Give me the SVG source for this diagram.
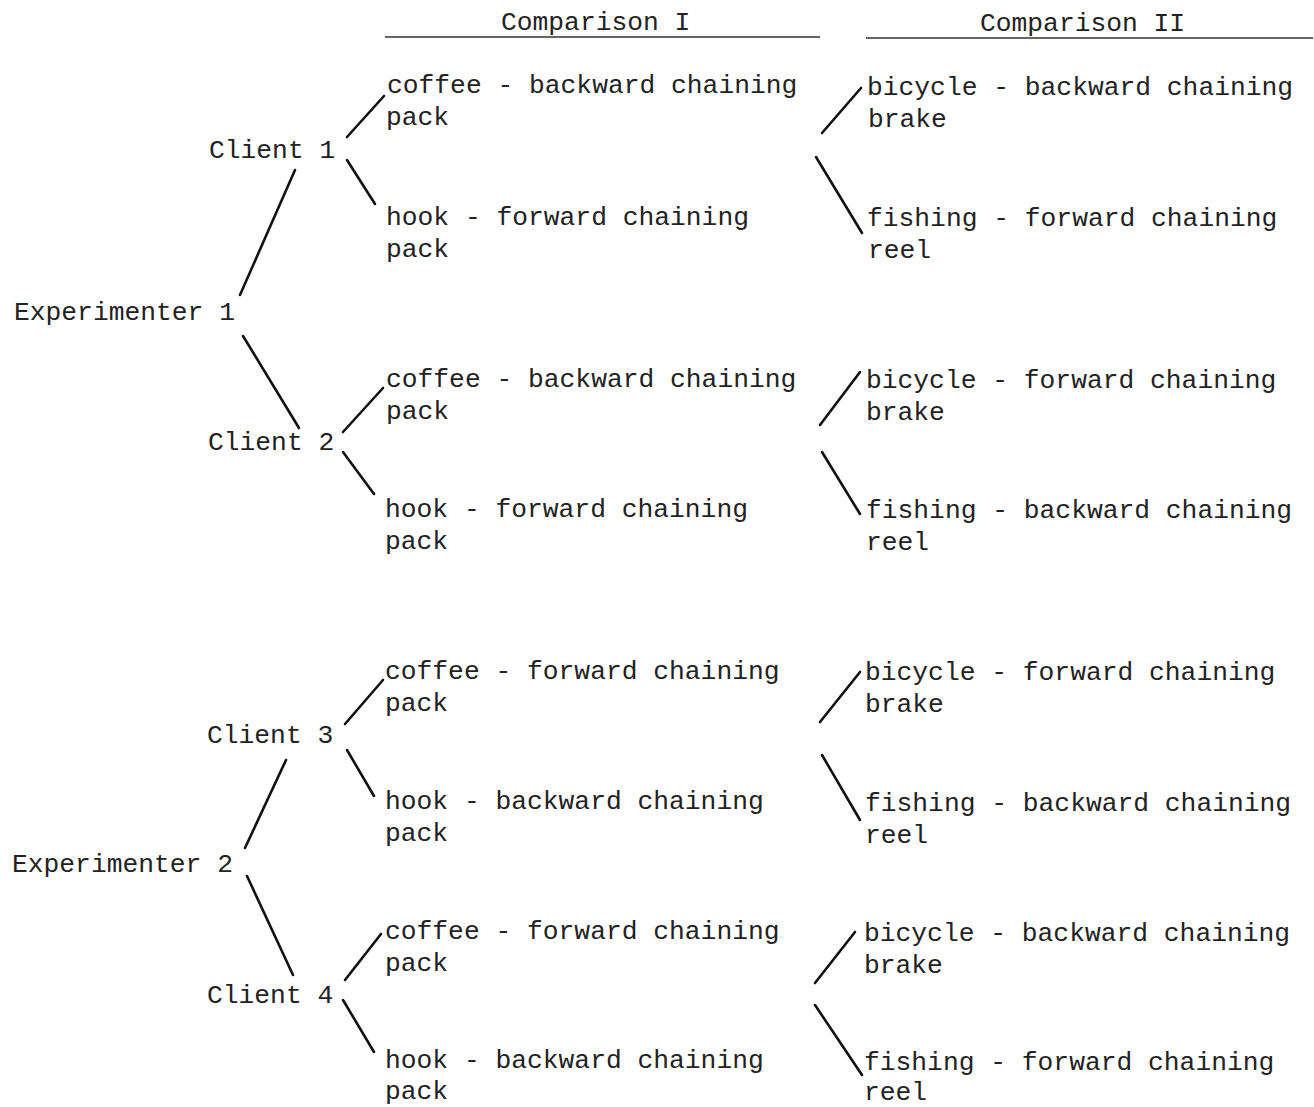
<svg xmlns="http://www.w3.org/2000/svg" width="1314" height="1107" viewBox="0 0 1314 1107">
<style>
text{font-family:"Liberation Mono","DejaVu Sans Mono",monospace;font-size:26.3px;fill:#222}
.c line{stroke:#111;stroke-width:2.6;stroke-linecap:round}
.u{stroke:#333;stroke-width:1.3}
</style>
<rect width="1314" height="1107" fill="#fff"/>
<g id="headers">
<text x="501" y="30">Comparison I</text>
<line class="u" x1="385" y1="37" x2="820" y2="37"/>
<text x="980" y="31">Comparison II</text>
<line class="u" x1="866" y1="38" x2="1313" y2="38"/>
</g>
<g class="c" id="connectors">
<line x1="240" y1="295" x2="295" y2="170"/>
<line x1="243" y1="336" x2="299" y2="428"/>
<line x1="347" y1="137" x2="384" y2="96"/>
<line x1="347" y1="160" x2="375" y2="204"/>
<line x1="343" y1="432" x2="383" y2="388"/>
<line x1="343" y1="452" x2="374" y2="494"/>
<line x1="822" y1="133" x2="861" y2="88"/>
<line x1="816" y1="157" x2="862" y2="233"/>
<line x1="820" y1="425" x2="860" y2="372"/>
<line x1="822" y1="452" x2="860" y2="514"/>
<line x1="245" y1="848" x2="286" y2="760"/>
<line x1="247" y1="876" x2="293" y2="975"/>
<line x1="345" y1="724" x2="383" y2="680"/>
<line x1="347" y1="750" x2="374" y2="796"/>
<line x1="345" y1="980" x2="381" y2="934"/>
<line x1="343" y1="1000" x2="374" y2="1052"/>
<line x1="820" y1="722" x2="860" y2="672"/>
<line x1="822" y1="755" x2="860" y2="820"/>
<line x1="815" y1="983" x2="855" y2="932"/>
<line x1="815" y1="1005" x2="862" y2="1075"/>
</g>
<g id="exp1"><text x="14" y="320">Experimenter 1</text></g>
<g id="exp2"><text x="12" y="872">Experimenter 2</text></g>
<g id="client1"><text x="209" y="158">Client 1</text></g>
<g id="client2"><text x="208" y="450">Client 2</text></g>
<g id="client3"><text x="207" y="743">Client 3</text></g>
<g id="client4"><text x="207" y="1003">Client 4</text></g>
<g id="c1-coffee"><text x="387" y="93">coffee - backward chaining</text><text x="386" y="125">pack</text></g>
<g id="c1-hook"><text x="386" y="225">hook - forward chaining</text><text x="386" y="257">pack</text></g>
<g id="c2-coffee"><text x="386" y="387">coffee - backward chaining</text><text x="386" y="419">pack</text></g>
<g id="c2-hook"><text x="385" y="517">hook - forward chaining</text><text x="385" y="549">pack</text></g>
<g id="c3-coffee"><text x="385" y="679">coffee - forward chaining</text><text x="385" y="711">pack</text></g>
<g id="c3-hook"><text x="385" y="809">hook - backward chaining</text><text x="385" y="841">pack</text></g>
<g id="c4-coffee"><text x="385" y="939">coffee - forward chaining</text><text x="385" y="971">pack</text></g>
<g id="c4-hook"><text x="385" y="1068">hook - backward chaining</text><text x="385" y="1099">pack</text></g>
<g id="c1-bicycle"><text x="867" y="95">bicycle - backward chaining</text><text x="868" y="127">brake</text></g>
<g id="c1-fishing"><text x="867" y="226">fishing - forward chaining</text><text x="868" y="258">reel</text></g>
<g id="c2-bicycle"><text x="866" y="388">bicycle - forward chaining</text><text x="866" y="420">brake</text></g>
<g id="c2-fishing"><text x="866" y="518">fishing - backward chaining</text><text x="866" y="550">reel</text></g>
<g id="c3-bicycle"><text x="865" y="680">bicycle - forward chaining</text><text x="865" y="712">brake</text></g>
<g id="c3-fishing"><text x="865" y="811">fishing - backward chaining</text><text x="865" y="843">reel</text></g>
<g id="c4-bicycle"><text x="864" y="941">bicycle - backward chaining</text><text x="864" y="973">brake</text></g>
<g id="c4-fishing"><text x="864" y="1070">fishing - forward chaining</text><text x="864" y="1100">reel</text></g>
</svg>
